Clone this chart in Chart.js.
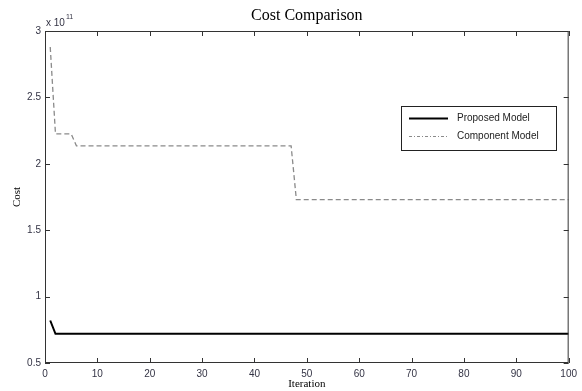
<!DOCTYPE html>
<html>
<head>
<meta charset="utf-8">
<script src="https://cdn.jsdelivr.net/npm/chart.js@4"></script>
<style>
  html, body { margin: 0; padding: 0; background: #fff; }
  #wrap { width: 582px; height: 391px; position: relative; }
</style>
</head>
<body>
<div id="wrap"><canvas id="cost-chart"></canvas></div>
<script>
// Cost values are in units of 1e11 (the axis carries the "x 10^11" multiplier)
const proposedIter = [1, 2, 100];
const proposedCost = [0.82, 0.72, 0.72];

const componentIter = [1, 2, 5, 6, 47, 48, 100];
const componentCost = [2.88, 2.225, 2.225, 2.135, 2.135, 1.73, 1.73];

const seriesLabels = ['Proposed Model', 'Component Model'];
const xTicks = [0, 10, 20, 30, 40, 50, 60, 70, 80, 90, 100];
const yTicks = [0.5, 1, 1.5, 2, 2.5, 3];

const TEXT_COLOR = '#333344';
const AXIS_COLOR = '#333333';
const SANS = '"Liberation Sans", Arial, sans-serif';
const SERIF = '"Liberation Serif", "Times New Roman", serif';

function toPoints(xs, ys) {
    return xs.map((x, i) => ({ x: x, y: ys[i] }));
}

// Draws the boxed frame with inward ticks, title, labels and the boxed legend
const matlabFrame = {
    id: 'matlabFrame',
    afterDraw(chart) {
        const ctx = chart.ctx;
        const area = chart.chartArea;
        const xs = chart.scales.x;
        const ys = chart.scales.y;
        ctx.save();

        // frame
        ctx.strokeStyle = AXIS_COLOR;
        ctx.lineWidth = 1;
        ctx.strokeRect(area.left + 0.5, area.top + 0.5, area.right - area.left - 1, area.bottom - area.top - 1);

        // inward ticks
        ctx.beginPath();
        xTicks.forEach(v => {
            const px = Math.round(xs.getPixelForValue(v)) + 0.5;
            ctx.moveTo(px, area.bottom); ctx.lineTo(px, area.bottom - 5);
            ctx.moveTo(px, area.top); ctx.lineTo(px, area.top + 5);
        });
        yTicks.forEach(v => {
            const py = Math.round(ys.getPixelForValue(v)) + 0.5;
            ctx.moveTo(area.left, py); ctx.lineTo(area.left + 5, py);
            ctx.moveTo(area.right, py); ctx.lineTo(area.right - 5, py);
        });
        ctx.stroke();

        // title
        ctx.fillStyle = '#000';
        ctx.textAlign = 'center';
        ctx.textBaseline = 'middle';
        ctx.font = '16px ' + SERIF;
        ctx.fillText('Cost Comparison', (area.left + area.right) / 2, 16);

        // axis labels
        ctx.font = '11px ' + SERIF;
        ctx.fillText('Iteration', (area.left + area.right) / 2, 384);
        ctx.save();
        ctx.translate(17, (area.top + area.bottom) / 2);
        ctx.rotate(-Math.PI / 2);
        ctx.fillText('Cost', 0, 0);
        ctx.restore();

        // exponent
        ctx.fillStyle = TEXT_COLOR;
        ctx.textAlign = 'left';
        ctx.font = '10px ' + SANS;
        ctx.fillText('x 10', area.left + 1, 23);
        ctx.font = '7px ' + SANS;
        ctx.fillText('11', area.left + 21, 17);

        // legend box
        const lx = 401, ly = 106, lw = 155, lh = 44;
        ctx.fillStyle = '#fff';
        ctx.fillRect(lx, ly, lw, lh);
        ctx.strokeStyle = '#222';
        ctx.lineWidth = 1;
        ctx.strokeRect(lx + 0.5, ly + 0.5, lw, lh);

        chart.data.datasets.forEach((ds, i) => {
            const rowY = ly + 12.5 + i * 18;
            ctx.beginPath();
            ctx.strokeStyle = ds.borderColor;
            ctx.lineWidth = i === 0 ? 2 : 1;
            ctx.setLineDash(i === 0 ? [] : [3, 2, 1, 2]);
            ctx.moveTo(lx + 8, rowY);
            ctx.lineTo(lx + 47, rowY);
            ctx.stroke();
            ctx.setLineDash([]);
            ctx.fillStyle = '#222';
            ctx.font = '10px ' + SANS;
            ctx.textAlign = 'left';
            ctx.fillText(ds.label, lx + 56, rowY);
        });

        ctx.restore();
    }
};

const ctx = document.getElementById('cost-chart').getContext('2d');
const costChart = new Chart(ctx, {
    type: 'line',
    data: {
        datasets: [
            {
                label: seriesLabels[0],
                data: toPoints(proposedIter, proposedCost),
                borderColor: '#000000',
                borderWidth: 2,
                pointRadius: 0,
                fill: false,
                tension: 0
            },
            {
                label: seriesLabels[1],
                data: toPoints(componentIter, componentCost),
                borderColor: '#8a8a8a',
                borderWidth: 1.3,
                borderDash: [5, 3],
                pointRadius: 0,
                fill: false,
                tension: 0
            }
        ]
    },
    options: {
        responsive: true,
        maintainAspectRatio: false,
        animation: false,
        layout: { padding: { top: 31, right: 13, left: 0, bottom: 0 } },
        plugins: {
            legend: { display: false },
            tooltip: { enabled: false }
        },
        scales: {
            x: {
                type: 'linear',
                min: 0,
                max: 100,
                grid: { display: false, drawTicks: false },
                border: { display: false },
                afterBuildTicks: s => { s.ticks = xTicks.map(v => ({ value: v })); },
                afterFit: s => { s.height = 28; },
                ticks: {
                    padding: 5,
                    maxRotation: 0,
                    color: TEXT_COLOR,
                    font: { family: SANS, size: 10 },
                    callback: v => String(v)
                }
            },
            y: {
                min: 0.5,
                max: 3,
                grid: { display: false, drawTicks: false },
                border: { display: false },
                afterBuildTicks: s => { s.ticks = yTicks.map(v => ({ value: v })); },
                afterFit: s => { s.width = 45; },
                ticks: {
                    padding: 4,
                    color: TEXT_COLOR,
                    font: { family: SANS, size: 10 },
                    callback: v => String(v)
                }
            }
        }
    },
    plugins: [matlabFrame]
});
</script>
</body>
</html>
